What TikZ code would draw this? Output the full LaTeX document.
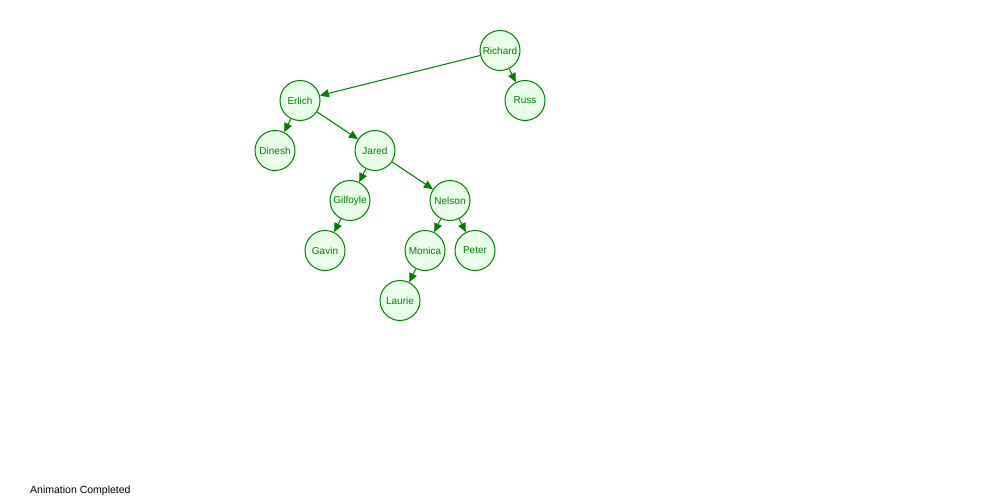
\documentclass[tikz,border=0pt]{standalone}
\usepackage{fontspec}
\setmainfont{Liberation Sans}
\usetikzlibrary{arrows.meta}
\definecolor{ngreen}{RGB}{0,128,0}
\definecolor{nfill}{RGB}{234,255,234}
\begin{document}
\begin{tikzpicture}[x=1pt,y=-1pt,
  tnode/.style={circle,draw=ngreen,fill=nfill,text=ngreen,line width=1pt,minimum size=40pt,inner sep=0pt,font=\fontsize{10}{12}\selectfont},
  tedge/.style={draw=ngreen,line width=1pt,-{Triangle[length=9pt,width=8pt]}}]
\useasboundingbox (0,0) rectangle (1000,500);
\node[tnode] (richard) at (500,50.5) {Richard};
\node[tnode] (russ) at (525,100.5) {Russ};
\node[tnode] (erlich) at (300,100.5) {Erlich};
\node[tnode] (dinesh) at (275,150.5) {Dinesh};
\node[tnode] (jared) at (375,150.5) {Jared};
\node[tnode] (gilfoyle) at (350,200.5) {Gilfoyle};
\node[tnode] (nelson) at (450,200.5) {Nelson};
\node[tnode] (gavin) at (325,250.5) {Gavin};
\node[tnode] (monica) at (425,250.5) {Monica};
\node[tnode] (peter) at (475,250.5) {Peter};
\node[tnode] (laurie) at (400,300.5) {Laurie};
\draw[tedge] (richard) -- (erlich);
\draw[tedge] (richard) -- (russ);
\draw[tedge] (erlich) -- (dinesh);
\draw[tedge] (erlich) -- (jared);
\draw[tedge] (jared) -- (gilfoyle);
\draw[tedge] (jared) -- (nelson);
\draw[tedge] (gilfoyle) -- (gavin);
\draw[tedge] (nelson) -- (monica);
\draw[tedge] (nelson) -- (peter);
\draw[tedge] (monica) -- (laurie);
\node[anchor=west,inner sep=0pt,font=\fontsize{10.5}{12}\selectfont] (status) at (30,490.5) {Animation Completed};
\end{tikzpicture}
\end{document}
